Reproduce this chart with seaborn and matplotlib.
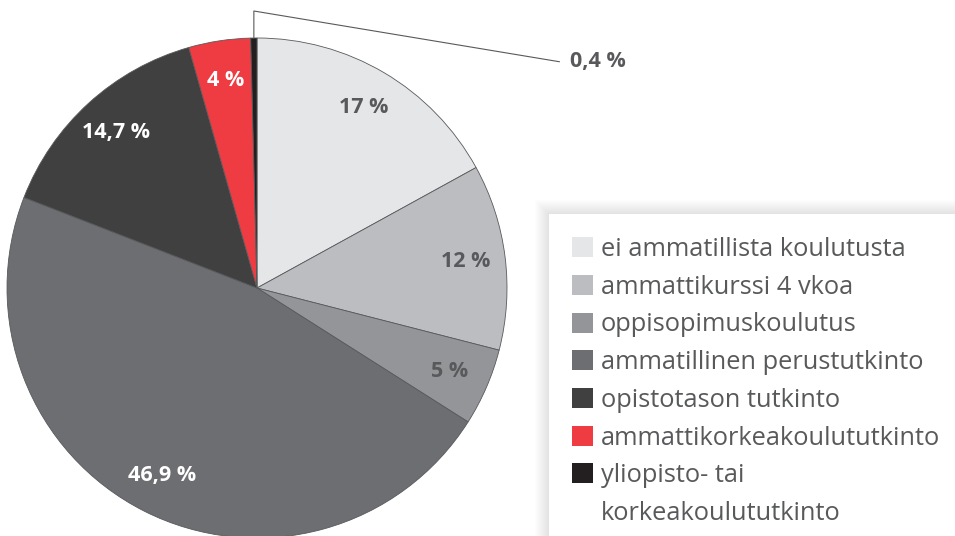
import numpy as np
import matplotlib
matplotlib.use("Agg")
import matplotlib.pyplot as plt
import matplotlib.patches as mpatches
import seaborn as sns

categories = [
    "ei ammatillista koulutusta",
    "ammattikurssi 4 vkoa",
    "oppisopimuskoulutus",
    "ammatillinen perustutkinto",
    "opistotason tutkinto",
    "ammattikorkeakoulututkinto",
    "yliopisto- tai korkeakoulututkinto",
]
shares = [17, 12, 5, 46.9, 14.7, 4, 0.4]
colors = ["#e5e6e8", "#bcbdc0", "#939598", "#6d6e71", "#404041", "#ef3b42", "#231f20"]
label_colors = ["#58595b", "#58595b", "#58595b", "white", "white", "white", None]

TEXT = "#58595b"

sns.set_style("white")
plt.rcParams["font.family"] = ["Open Sans", "DejaVu Sans"]

W, H = 955, 536
fig = plt.figure(figsize=(W / 100, H / 100), dpi=100)

# pie axes: centre (257, 288) px, radius 250 px
cx, cy, r = 257, 288, 250
ax = fig.add_axes([(cx - r) / W, (H - cy - r) / H, 2 * r / W, 2 * r / H])
wedges, _ = ax.pie(
    shares,
    colors=colors,
    startangle=90,
    counterclock=False,
    radius=1,
    wedgeprops=dict(edgecolor="#58595b", linewidth=0.6),
)
ax.set_xlim(-1, 1)
ax.set_ylim(-1, 1)
ax.set_aspect("equal")
ax.axis("off")
for w in wedges:
    w.set_clip_on(False)


def fmt(v):
    return f"{v:g}".replace(".", ",") + " %"


for w, v, lc in zip(wedges, shares, label_colors):
    mid = np.deg2rad((w.theta1 + w.theta2) / 2)
    if lc is None:
        # small slice: leader line out to the right
        x0, y0 = np.cos(mid), np.sin(mid)
        ax.plot([x0, x0, 1.21], [y0, 1.108, 0.905], color=TEXT, lw=0.8, clip_on=False)
        ax.text(1.25, 0.905, fmt(v), color=TEXT, fontsize=15.5, fontweight="bold",
                ha="left", va="center", clip_on=False)
        continue
    rr = 0.84
    ax.text(rr * np.cos(mid), rr * np.sin(mid), fmt(v), color=lc, fontsize=15.5,
            fontweight="bold", ha="center", va="center")

# legend panel with a soft shadow
bx, by = 549 / W, 0.0
bw, bh = 1.05 - bx, (H - 214) / H
for i in range(14, 0, -1):
    fig.patches.append(mpatches.Rectangle(
        (bx - i / W, by - 0.05), bw + 2 * i / W, bh + 0.05 + i / H,
        transform=fig.transFigure, facecolor="#000000", alpha=0.007,
        edgecolor="none", zorder=1))
fig.patches.append(mpatches.Rectangle(
    (bx, by - 0.05), bw, bh + 0.05, transform=fig.transFigure,
    facecolor="white", edgecolor="none", zorder=2))

labels = categories[:-1] + ["yliopisto- tai", "korkeakoulututkinto"]
proxy = [mpatches.Rectangle((0, 0), 1, 1, facecolor=c, edgecolor="none") for c in colors]
proxy.append(mpatches.Rectangle((0, 0), 1, 1, alpha=0))
leg = fig.legend(
    proxy, labels,
    loc="upper left", bbox_to_anchor=(572 / W, 1 - 237 / H),
    frameon=False, fontsize=18.3, labelcolor=TEXT,
    handlelength=0.83, handleheight=0.83, handletextpad=0.3,
    labelspacing=0.5, borderaxespad=0, borderpad=0,
)
leg.set_zorder(5)

fig.savefig("out.png", dpi=100)
